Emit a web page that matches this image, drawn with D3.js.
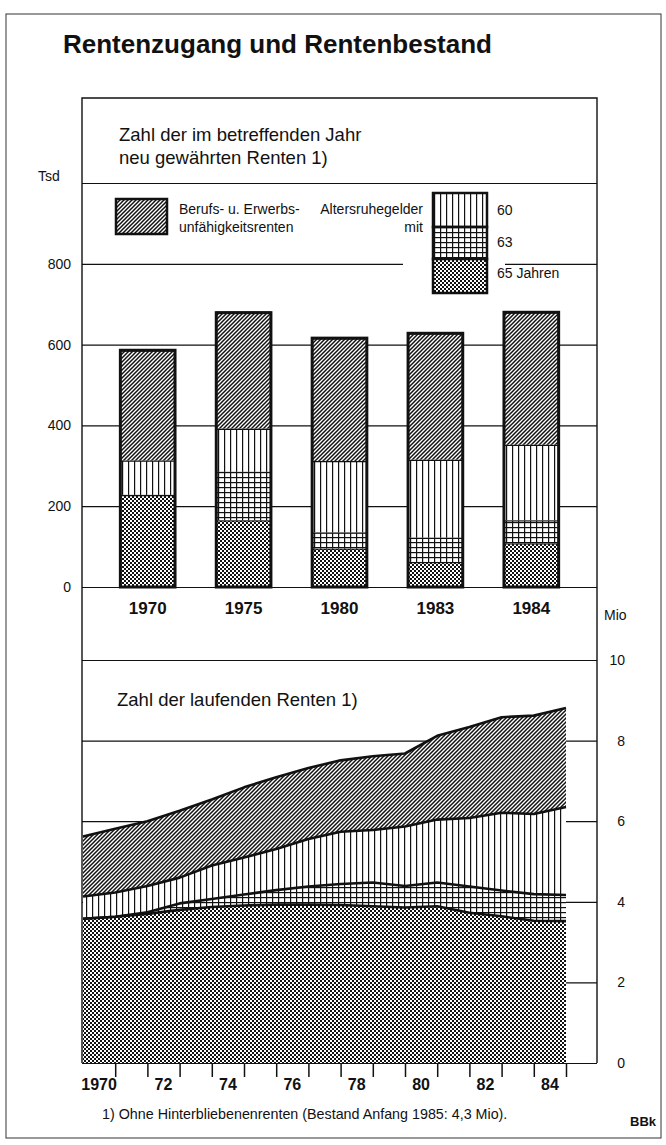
<!DOCTYPE html>
<html lang="de">
<head>
<meta charset="utf-8">
<title>Rentenzugang und Rentenbestand</title>
<script src="https://d3js.org/d3.v7.min.js"></script>
<style>
    body { margin: 0; background: #fff; }
    svg { display: block; font-family: "Liberation Sans", Arial, sans-serif; }
    .lbl { font-size: 14px; fill: #111; }
    .hdr { font-size: 18.5px; fill: #111; }
    .yr { font-size: 17px; font-weight: bold; fill: #111; }
</style>
</head>
<body>
<div id="chart"></div>
<script>
    // --- neu gewaehrte Renten (Tsd), Saeulen
    var barYears = ["1970", "1975", "1980", "1983", "1984"];
    var bar65 = [228, 165, 95, 62, 108];
    var bar63 = [0, 120, 40, 60, 57];
    var bar60 = [85, 107, 177, 193, 187];
    var barBU = [273, 287, 304, 313, 328];
    var barTicks = [0, 200, 400, 600, 800];

    // --- laufende Renten (Mio), Bestand jeweils am Jahresanfang
    var stockYears = [1970, 1971, 1972, 1973, 1974, 1975, 1976, 1977, 1978, 1979, 1980, 1981, 1982, 1983, 1984, 1985];
    var stock65 = [3.58, 3.63, 3.70, 3.80, 3.87, 3.91, 3.93, 3.93, 3.92, 3.89, 3.86, 3.89, 3.73, 3.64, 3.53, 3.52];
    var stock63 = [0, 0, 0.04, 0.16, 0.20, 0.27, 0.36, 0.45, 0.52, 0.59, 0.53, 0.59, 0.65, 0.64, 0.66, 0.65];
    var stock60 = [0.55, 0.60, 0.65, 0.64, 0.83, 0.92, 1.02, 1.18, 1.30, 1.30, 1.48, 1.56, 1.70, 1.93, 1.99, 2.18];
    var stockBU = [1.49, 1.58, 1.61, 1.66, 1.64, 1.74, 1.78, 1.76, 1.77, 1.83, 1.81, 2.08, 2.26, 2.37, 2.44, 2.46];
    var stockTicks = [0, 2, 4, 6, 8, 10];
    var axisYears = [1971, 1972, 1973, 1974, 1975, 1976, 1977, 1978, 1979, 1980, 1981, 1982, 1983, 1984, 1985];
    var axisLabels = [[1970, "1970"], [1972, "72"], [1974, "74"], [1976, "76"], [1978, "78"], [1980, "80"], [1982, "82"], [1984, "84"]];

    var keys = ["a65", "a63", "a60", "aBU"];
    var fills = { a65: "url(#dots)", a63: "url(#grid)", a60: "url(#vert)", aBU: "url(#diag)" };

    var ink = "#111";
    var panelL = 82, panelR = 597, panelT = 98, panelB = 1063;

    var svg = d3.select("#chart").append("svg")
        .attr("width", 666)
        .attr("height", 1145);

    // patterns
    var defs = svg.append("defs");
    var p = defs.append("pattern").attr("id", "diag").attr("patternUnits", "userSpaceOnUse")
        .attr("width", 4).attr("height", 4);
    p.append("path").attr("d", "M-1,1 l2,-2 M0,4 l4,-4 M3,5 l2,-2").attr("stroke", ink).attr("stroke-width", 1.5);
    p = defs.append("pattern").attr("id", "vert").attr("patternUnits", "userSpaceOnUse")
        .attr("width", 6).attr("height", 6);
    p.append("rect").attr("x", 2).attr("y", 0).attr("width", 1.2).attr("height", 6).attr("fill", ink);
    p = defs.append("pattern").attr("id", "grid").attr("patternUnits", "userSpaceOnUse")
        .attr("width", 6).attr("height", 5);
    p.append("rect").attr("x", 2).attr("y", 0).attr("width", 1.2).attr("height", 5).attr("fill", ink);
    p.append("rect").attr("x", 0).attr("y", 2).attr("width", 6).attr("height", 1.2).attr("fill", ink);
    p = defs.append("pattern").attr("id", "dots").attr("patternUnits", "userSpaceOnUse")
        .attr("width", 4).attr("height", 4);
    p.append("rect").attr("x", 0).attr("y", 0).attr("width", 2).attr("height", 2).attr("fill", ink);
    p.append("rect").attr("x", 2).attr("y", 2).attr("width", 2).attr("height", 2).attr("fill", ink);

    // outer frame + title
    svg.append("rect").attr("x", 6).attr("y", 14).attr("width", 655).attr("height", 1124)
        .attr("fill", "none").attr("stroke", "#333").attr("stroke-width", 1);
    svg.append("text").attr("x", 63).attr("y", 53)
        .style("font-size", "26px").style("font-weight", "bold").style("fill", ink)
        .text("Rentenzugang und Rentenbestand");

    // ---------------- top chart ----------------
    var yTop = d3.scaleLinear().domain([0, 1000]).range([587, 183]);
    var x = d3.scaleBand().domain(barYears).range([panelL, panelR]).paddingInner(0.43).paddingOuter(0.4);

    svg.append("g")
        .attr("transform", "translate(" + panelL + ",0)")
        .call(d3.axisLeft(yTop).tickValues([0, 200, 400, 600, 800, 1000]).tickSize(-(panelR - panelL)).tickFormat(""))
        .call(function (g) { g.select(".domain").remove(); })
        .selectAll("line").attr("stroke", ink).attr("stroke-width", 1.2);

    svg.append("g")
        .attr("transform", "translate(71,0)")
        .call(d3.axisLeft(yTop).tickValues(barTicks).tickSize(0))
        .call(function (g) { g.select(".domain").remove(); })
        .selectAll("text").attr("class", "lbl").style("font-size", "14px").attr("x", 0);
    svg.append("text").attr("class", "lbl").attr("x", 38).attr("y", 181).text("Tsd");

    svg.append("text").attr("class", "hdr").attr("x", 119).attr("y", 141).text("Zahl der im betreffenden Jahr");
    svg.append("text").attr("class", "hdr").attr("x", 119).attr("y", 164).text("neu gewährten Renten 1)");

    // legend
    svg.append("rect").attr("x", 403).attr("y", 250).attr("width", 102).attr("height", 26).attr("fill", "#fff");
    svg.append("rect").attr("x", 116).attr("y", 199).attr("width", 51).attr("height", 35)
        .attr("fill", "url(#diag)").attr("stroke", ink).attr("stroke-width", 2.5);
    svg.append("text").attr("class", "lbl").attr("x", 179).attr("y", 214).text("Berufs- u. Erwerbs-");
    svg.append("text").attr("class", "lbl").attr("x", 179).attr("y", 232).text("unfähigkeitsrenten");
    svg.append("text").attr("class", "lbl").attr("x", 423).attr("y", 214).attr("text-anchor", "end").text("Altersruhegelder");
    svg.append("text").attr("class", "lbl").attr("x", 423).attr("y", 232).attr("text-anchor", "end").text("mit");
    var legBox = [["a60", 193, 227, "60", 215], ["a63", 227, 259, "63", 247], ["a65", 259, 293, "65 Jahren", 278]];
    legBox.forEach(function (d) {
        svg.append("rect").attr("x", 433).attr("y", d[1]).attr("width", 54).attr("height", d[2] - d[1])
            .attr("fill", "#fff");
        svg.append("rect").attr("x", 433).attr("y", d[1]).attr("width", 54).attr("height", d[2] - d[1])
            .attr("fill", fills[d[0]]).attr("stroke", ink).attr("stroke-width", 2.5);
        svg.append("text").attr("class", "lbl").attr("x", 497).attr("y", d[4]).text(d[3]);
    });

    // bars
    var barTable = barYears.map(function (y, i) {
        return { year: y, a65: bar65[i], a63: bar63[i], a60: bar60[i], aBU: barBU[i] };
    });
    var barStack = d3.stack().keys(keys)(barTable);

    var bars = svg.append("g");
    barStack.forEach(function (layer) {
        var seg = bars.selectAll(null).data(layer.filter(function (d) { return d[1] > d[0]; })).enter();
        seg.append("rect")
            .attr("x", function (d) { return x(d.data.year); })
            .attr("y", function (d) { return yTop(d[1]); })
            .attr("width", x.bandwidth())
            .attr("height", function (d) { return yTop(d[0]) - yTop(d[1]); })
            .attr("fill", "#fff");
        seg.append("rect")
            .attr("x", function (d) { return x(d.data.year); })
            .attr("y", function (d) { return yTop(d[1]); })
            .attr("width", x.bandwidth())
            .attr("height", function (d) { return yTop(d[0]) - yTop(d[1]); })
            .attr("fill", fills[layer.key]);
        seg.append("line")
            .attr("x1", function (d) { return x(d.data.year); })
            .attr("x2", function (d) { return x(d.data.year) + x.bandwidth(); })
            .attr("y1", function (d) { return yTop(d[1]); })
            .attr("y2", function (d) { return yTop(d[1]); })
            .attr("stroke", ink).attr("stroke-width", 2.5);
    });
    bars.selectAll(".outline").data(barStack[barStack.length - 1]).enter().append("rect")
        .attr("x", function (d) { return x(d.data.year); })
        .attr("y", function (d) { return yTop(d[1]); })
        .attr("width", x.bandwidth())
        .attr("height", function (d) { return yTop(0) - yTop(d[1]); })
        .attr("fill", "none").attr("stroke", ink).attr("stroke-width", 3);

    svg.selectAll(".yr1").data(barYears).enter().append("text")
        .attr("class", "yr")
        .attr("x", function (d) { return x(d) + x.bandwidth() / 2; })
        .attr("y", 614)
        .attr("text-anchor", "middle")
        .text(function (d) { return d; });

    // ---------------- bottom chart ----------------
    var yBot = d3.scaleLinear().domain([0, 10]).range([panelB, 660]);
    var xBot = d3.scaleLinear().domain([1970, 1985]).range([panelL + 1, 566]);

    svg.append("g")
        .attr("transform", "translate(" + panelR + ",0)")
        .call(d3.axisLeft(yBot).tickValues(stockTicks).tickSize(panelR - panelL).tickFormat(""))
        .call(function (g) { g.select(".domain").remove(); })
        .selectAll("line").attr("stroke", ink).attr("stroke-width", 1.2);

    svg.append("g")
        .attr("transform", "translate(625,0)")
        .call(d3.axisLeft(yBot).tickValues(stockTicks).tickSize(0))
        .call(function (g) { g.select(".domain").remove(); })
        .selectAll("text").attr("class", "lbl").style("font-size", "14px").attr("x", 0);
    svg.append("text").attr("class", "lbl").attr("x", 604).attr("y", 620).text("Mio");

    svg.append("text").attr("class", "hdr").attr("x", 117).attr("y", 706).text("Zahl der laufenden Renten  1)");

    var stockTable = stockYears.map(function (y, i) {
        return { year: y, a65: stock65[i], a63: stock63[i], a60: stock60[i], aBU: stockBU[i] };
    });
    var stockStack = d3.stack().keys(keys)(stockTable);

    var area = d3.area()
        .x(function (d) { return xBot(d.data.year); })
        .y0(function (d) { return yBot(d[0]); })
        .y1(function (d) { return yBot(d[1]); });
    var topLine = d3.line()
        .x(function (d) { return xBot(d.data.year); })
        .y(function (d) { return yBot(d[1]); });

    var areas = svg.append("g");
    stockStack.forEach(function (layer) {
        areas.append("path").datum(layer).attr("d", area).attr("fill", "#fff");
        areas.append("path").datum(layer).attr("d", area).attr("fill", fills[layer.key]);
    });
    stockStack.forEach(function (layer) {
        areas.append("path").datum(layer).attr("d", topLine)
            .attr("fill", "none").attr("stroke", ink).attr("stroke-width", 2.6)
            .attr("stroke-linejoin", "round");
    });

    svg.append("g")
        .attr("transform", "translate(0," + panelB + ")")
        .call(d3.axisBottom(xBot).tickValues(axisYears).tickSize(14).tickFormat(""))
        .call(function (g) { g.select(".domain").remove(); })
        .selectAll("line").attr("stroke", ink).attr("stroke-width", 1.5);

    svg.selectAll(".yr2").data(axisLabels).enter().append("text")
        .attr("class", "yr")
        .style("font-size", "16px")
        .attr("x", function (d) { return xBot(d[0] + 0.5); })
        .attr("y", 1090)
        .attr("text-anchor", "middle")
        .text(function (d) { return d[1]; });

    // panel frame, drawn last so that it sits on top
    svg.append("path")
        .attr("d", "M" + panelL + "," + panelB + " V" + panelT + " H" + panelR + " V" + panelB)
        .attr("fill", "none").attr("stroke", ink).attr("stroke-width", 1.4);

    svg.append("text").attr("class", "lbl").style("font-size", "14.3px").attr("x", 102).attr("y", 1119)
        .text("1) Ohne Hinterbliebenenrenten (Bestand Anfang 1985: 4,3 Mio).");
    svg.append("text").attr("class", "lbl").style("font-size", "13px").style("font-weight", "bold")
        .attr("x", 630).attr("y", 1126).text("BBk");
</script>
</body>
</html>
